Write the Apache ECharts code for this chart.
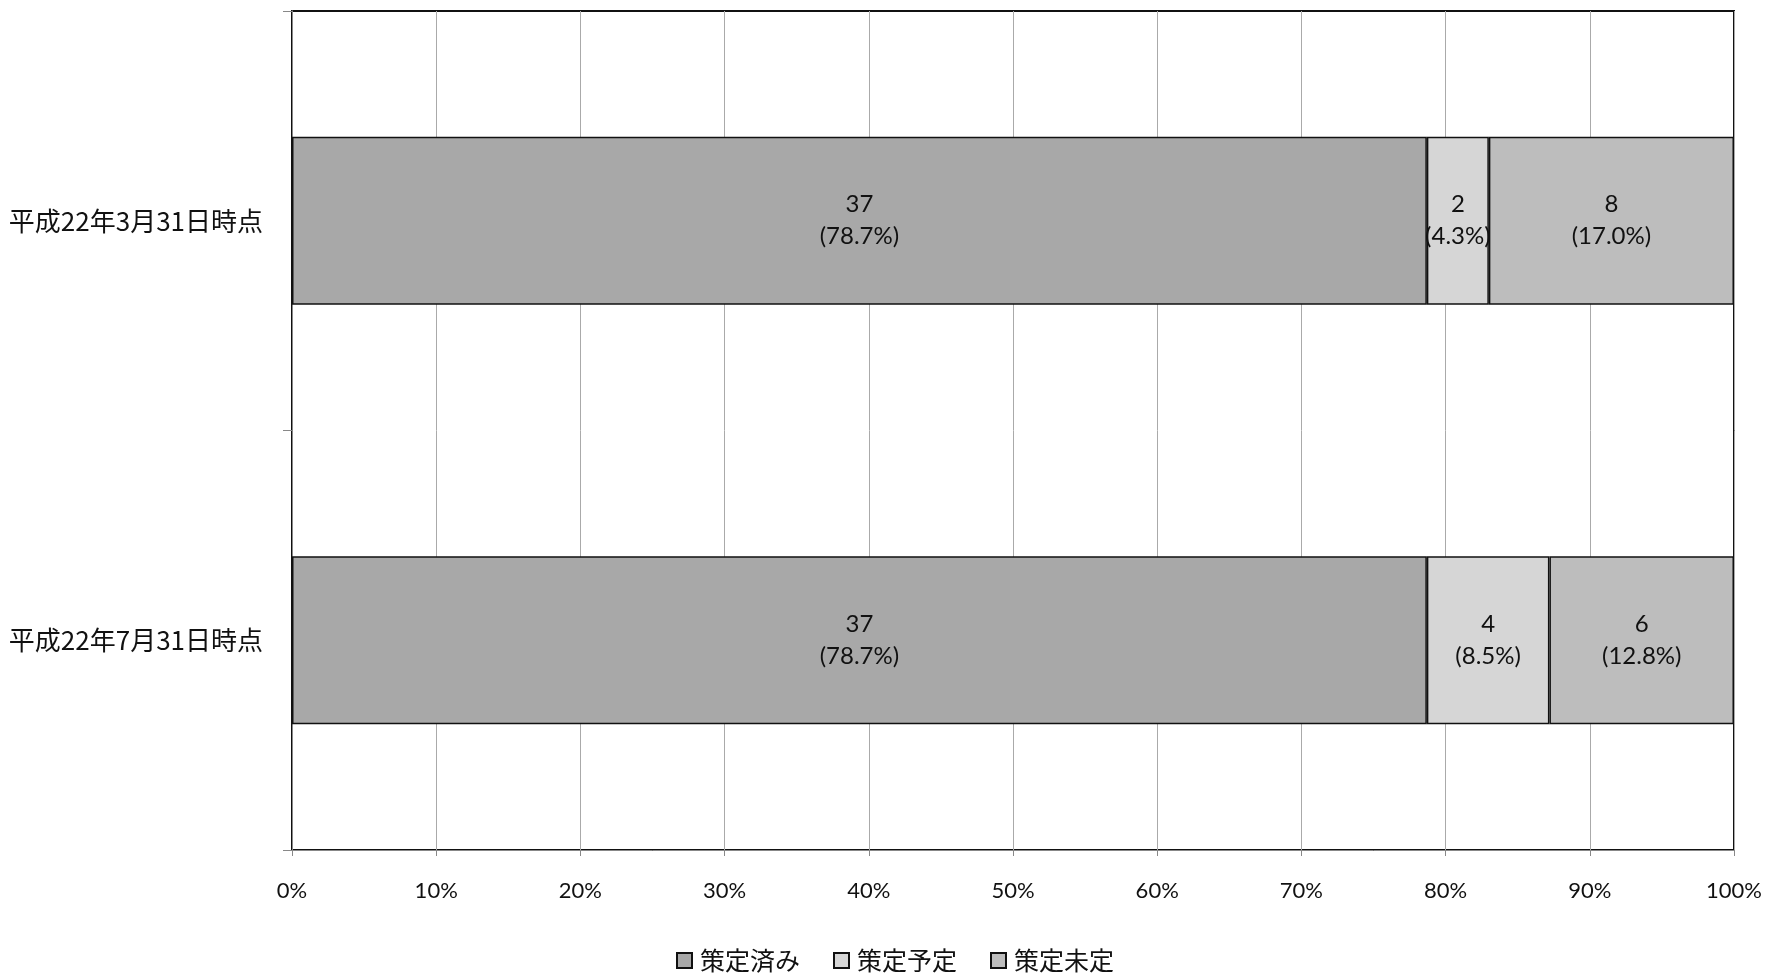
<!DOCTYPE html>
<html>
<head>
<meta charset="utf-8">
<script src="https://cdn.jsdelivr.net/npm/echarts@6/dist/echarts.min.js"></script>
<style>html,body{margin:0;padding:0;background:#fff}#c{width:1770px;height:973px}</style>
</head>
<body>
<div id="c"></div>
<script>
const categories = ['平成22年3月31日時点', '平成22年7月31日時点'];
const seriesNames = ['策定済み', '策定予定', '策定未定'];
const doneCount = [37, 37];
const donePct = [78.7, 78.7];
const plannedCount = [2, 4];
const plannedPct = [4.3, 8.5];
const undecidedCount = [8, 6];
const undecidedPct = [17.0, 12.8];
const xTicks = [0, 10, 20, 30, 40, 50, 60, 70, 80, 90, 100];

const colors = ['#a8a8a8', '#d6d6d6', '#bdbdbd'];
const counts = [doneCount, plannedCount, undecidedCount];
const pcts = [donePct, plannedPct, undecidedPct];

const chart = echarts.init(document.getElementById('c'));
chart.setOption({
  backgroundColor: '#fff',
  animation: false,
  grid: { left: 292, right: 36, top: 11, bottom: 123, show: true, borderColor: '#111', borderWidth: 2, containLabel: false },
  legend: {
    top: 943, left: 671,
    itemWidth: 15, itemHeight: 15, itemGap: 33,
    icon: 'rect',
    textStyle: { fontFamily: 'Noto Sans CJK JP', fontSize: 25, color: '#111', padding: [0, 0, 0, 3] },
    data: seriesNames
  },
  xAxis: {
    type: 'value', min: xTicks[0], max: xTicks[xTicks.length - 1], interval: 10,
    axisLine: { show: true, lineStyle: { color: '#888', width: 1 } },
    axisTick: { show: true, length: 6, lineStyle: { color: '#888' } },
    axisLabel: { margin: 30, fontFamily: 'Lato', fontSize: 22, color: '#111', formatter: '{value}%' },
    splitLine: { show: true, lineStyle: { color: '#aaa', width: 1 } }
  },
  yAxis: {
    type: 'category', inverse: true, data: categories,
    axisLine: { show: true, lineStyle: { color: '#888', width: 1 } },
    axisTick: { show: true, length: 9, lineStyle: { color: '#888' } },
    axisLabel: { margin: 29, fontFamily: 'Noto Sans CJK JP', fontSize: 26, color: '#111' }
  },
  series: seriesNames.map((name, i) => ({
    name: name,
    type: 'bar',
    stack: 'total',
    barWidth: '40%',
    data: pcts[i],
    itemStyle: { color: colors[i], borderColor: '#111', borderWidth: 1.5 },
    label: {
      show: true, position: 'inside', color: '#111',
      fontFamily: 'Lato', fontSize: 24, lineHeight: 32,
      formatter: p => counts[i][p.dataIndex] + '\n(' + pcts[i][p.dataIndex].toFixed(1) + '%)'
    }
  }))
});
</script>
</body>
</html>
